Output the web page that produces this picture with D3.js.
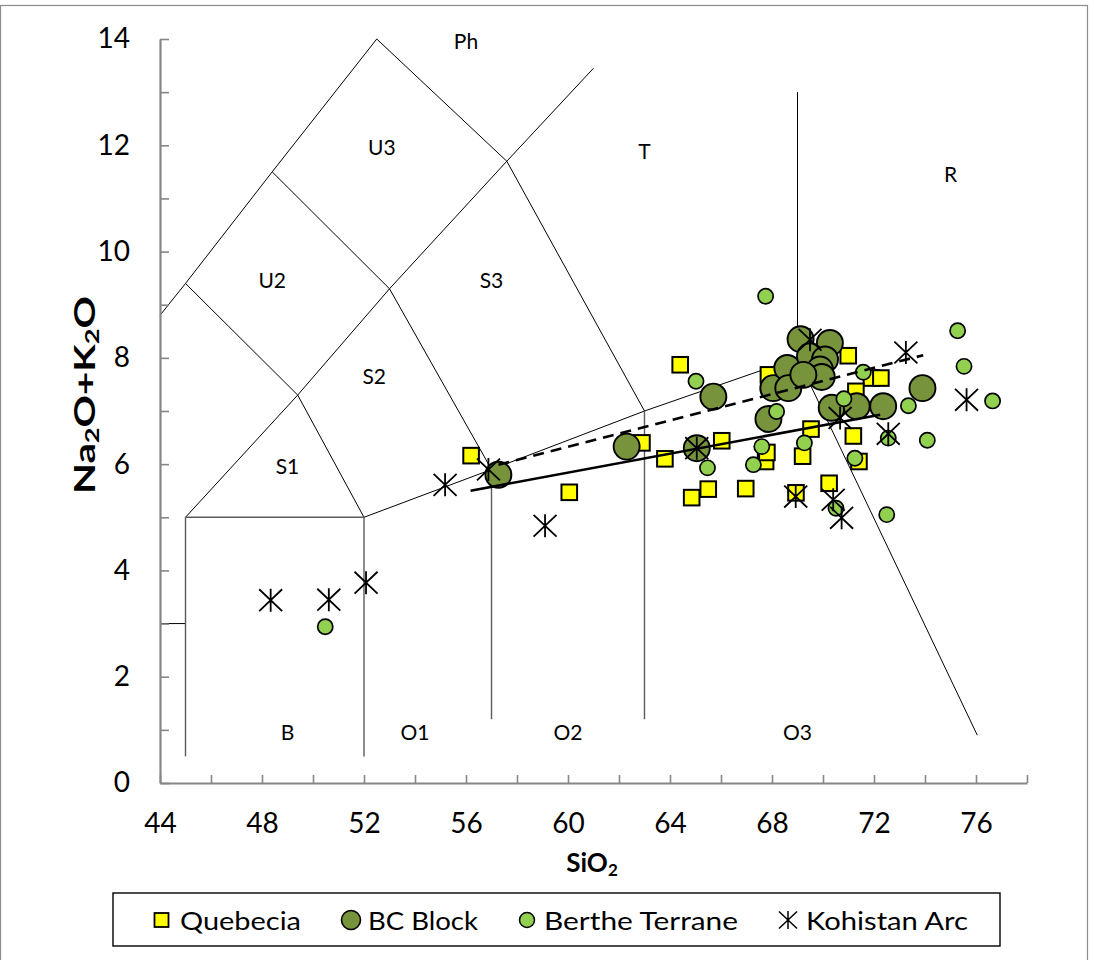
<!DOCTYPE html>
<html>
<head>
<meta charset="utf-8">
<script src="https://cdn.jsdelivr.net/npm/d3@7"></script>
<style>
  body { margin: 0; background: #fff; }
  text { font-family: Lato, "Open Sans", sans-serif; }
</style>
</head>
<body>
<svg id="chart" width="1094" height="960"></svg>
<script>
// ---- sample data: [SiO2, Na2O+K2O] (wt%) ----
const quebecia = [
  [56.2, 6.16], [60.05, 5.47], [62.9, 6.4], [63.8, 6.1], [66.03, 6.44],
  [64.85, 5.37], [65.5, 5.53], [66.97, 5.54], [64.4, 7.87], [67.86, 7.68],
  [69.53, 6.66], [69.2, 6.15], [67.75, 6.05], [67.8, 6.22], [70.24, 5.64],
  [68.94, 5.46], [70.99, 8.04], [71.9, 7.62], [72.27, 7.62], [71.29, 7.37],
  [71.19, 6.53], [71.41, 6.05]
];
const bcBlock = [
  [57.27, 5.8], [62.3, 6.33], [65.05, 6.3], [65.7, 7.27], [67.86, 6.85],
  [68.05, 7.43], [68.6, 7.81], [68.64, 7.43], [69.12, 8.35], [70.27, 8.28],
  [69.49, 8.03], [70.08, 7.97], [69.88, 7.78], [69.95, 7.64], [69.23, 7.68],
  [70.34, 7.06], [71.32, 7.09], [72.36, 7.09], [73.9, 7.43]
];
const bertheTerrane = [
  [50.48, 2.94], [67.75, 9.16], [65.02, 7.56], [65.47, 5.93], [67.6, 6.33],
  [67.27, 5.99], [68.18, 6.99], [69.27, 6.4], [70.82, 7.23], [71.25, 6.11],
  [70.51, 5.17], [75.28, 8.51], [75.53, 7.84], [76.65, 7.19], [73.35, 7.1],
  [74.09, 6.45], [72.5, 5.05], [71.58, 7.73], [72.56, 6.49]
];
const kohistanArc = [
  [48.34, 3.44], [50.62, 3.45], [52.08, 3.77], [55.18, 5.61], [56.88, 5.9],
  [59.1, 4.84], [65.05, 6.3], [68.93, 5.39], [70.4, 5.33], [70.73, 4.99],
  [70.67, 6.87], [69.49, 8.34], [73.25, 8.1], [75.63, 7.21], [72.56, 6.57]
];

// trend lines
const trendSolid = [[56.18, 5.5], [72.24, 6.93]];
const trendDashed = [[57.27, 5.99], [73.93, 8.05]];

// TAS field boundaries (SiO2, alkali)
const fieldBoundaries = [
  [[44, 8.8], [45, 9.4], [48.4, 11.5], [52.5, 14]],
  [[52.5, 14], [57.6, 11.7], [63, 7]],
  [[45, 5], [49.4, 7.3], [53, 9.3], [57.6, 11.7], [61, 13.45]],
  [[45, 9.4], [49.4, 7.3], [52, 5]],
  [[48.4, 11.5], [53, 9.3], [57, 5.9]],
  [[52, 5], [57, 5.9], [63, 7], [69, 8]],
  [[69, 8], [69, 13]],
  [[69, 8], [76.05, 0.9]],
  [[44, 3], [45, 3]]
];
const fieldBoundariesGrey = [
  [[45, 5], [52, 5]],
  [[45, 0.5], [45, 5]],
  [[52, 0.5], [52, 5]],
  [[57, 1.2], [57, 5.9]],
  [[63, 1.2], [63, 7]]
];
const fieldNames = ["Ph", "U3", "U2", "S3", "S2", "S1", "T", "R", "B", "O1", "O2", "O3"];
const fieldNameSiO2 = [56.0, 52.7, 48.4, 57.0, 52.4, 49.0, 63.0, 75.0, 49.0, 54.0, 60.0, 69.0];
const fieldNameAlk = [13.97, 11.97, 9.48, 9.47, 7.67, 5.97, 11.91, 11.46, 0.97, 0.97, 0.97, 0.97];

// axes
const xTicks = d3.range(44, 79, 2);
const xTickLabels = [44, 48, 52, 56, 60, 64, 68, 72, 76];
const yTicks = d3.range(0, 15, 1);
const yTickLabels = [0, 2, 4, 6, 8, 10, 12, 14];

const seriesNames = ["Quebecia", "BC Block", "Berthe Terrane", "Kohistan Arc"];

// ---- drawing ----
const svg = d3.select("#chart");
const x = d3.scaleLinear().domain([44, 78]).range([160, 1027]);
const y = d3.scaleLinear().domain([0, 14]).range([783, 39]);

const COL_Q = "#ffff00", COL_BC = "#77933c", COL_BT = "#92d050";

// outer chart frame
svg.append("rect").attr("x", 0.5).attr("y", 5.5).attr("width", 1087).attr("height", 1000)
  .attr("fill", "none").attr("stroke", "#8c8c8c").attr("stroke-width", 1.2);

const line = d3.line().x(d => x(d[0])).y(d => y(d[1]));

// field boundaries
svg.append("g").selectAll("path").data(fieldBoundaries).join("path")
  .attr("d", line).attr("fill", "none").attr("stroke", "#000").attr("stroke-width", 1);
svg.append("g").selectAll("path").data(fieldBoundariesGrey).join("path")
  .attr("d", line).attr("fill", "none").attr("stroke", "#5a5a5a").attr("stroke-width", 1.4);

// field names
svg.append("g").selectAll("text").data(fieldNames).join("text")
  .attr("x", (d, i) => x(fieldNameSiO2[i]))
  .attr("y", (d, i) => y(fieldNameAlk[i]))
  .attr("text-anchor", "middle").attr("dominant-baseline", "central")
  .attr("font-size", 21).attr("fill", "#000")
  .text(d => d);

// axes
const xAxis = d3.axisBottom(x).tickValues(xTicks).tickSizeInner(-8).tickSizeOuter(0).tickPadding(30)
  .tickFormat(d => xTickLabels.includes(d) ? d : "");
const yAxis = d3.axisLeft(y).tickValues(yTicks).tickSizeInner(-9).tickSizeOuter(0).tickPadding(30)
  .tickFormat(d => yTickLabels.includes(d) ? d : "");

const gx = svg.append("g").attr("transform", `translate(0,${y(0)})`).call(xAxis);
const gy = svg.append("g").attr("transform", `translate(${x(44)},0)`).call(yAxis);
[gx, gy].forEach(g => {
  g.select(".domain").attr("stroke", "#868686").attr("stroke-width", 2.2);
  g.selectAll(".tick line").attr("stroke", "#868686").attr("stroke-width", 1.6);
  g.selectAll(".tick text").attr("font-size", 28).attr("fill", "#000")
    .style("font-family", "Lato, sans-serif");
});

// axis titles
const xt = svg.append("text").attr("x", 592).attr("y", 862).attr("text-anchor", "middle")
  .attr("dominant-baseline", "central").attr("font-size", 26).attr("font-weight", "bold");
xt.append("tspan").text("SiO");
xt.append("tspan").attr("font-size", 17).attr("dy", 7).text("2");

const yt = svg.append("text").attr("transform", "translate(84,395) rotate(-90)")
  .attr("text-anchor", "middle").attr("dominant-baseline", "central")
  .attr("font-size", 28).attr("font-weight", "bold")
  .attr("textLength", 198).attr("lengthAdjust", "spacingAndGlyphs");
yt.append("tspan").text("Na");
yt.append("tspan").attr("font-size", 19).attr("dy", 7).text("2");
yt.append("tspan").attr("dy", -7).text("O+K");
yt.append("tspan").attr("font-size", 19).attr("dy", 7).text("2");
yt.append("tspan").attr("dy", -7).text("O");

// markers
const starPath = s => `M0,${-s}V${s}M${-s},${-s * 0.95}L${s},${s * 0.95}M${-s},${s * 0.95}L${s},${-s * 0.95}`;

const marks = svg.append("g");
marks.selectAll("rect.q").data(quebecia).join("rect").attr("class", "q")
  .attr("x", d => x(d[0]) - 7.8).attr("y", d => y(d[1]) - 7.8)
  .attr("width", 15.6).attr("height", 15.6)
  .attr("fill", COL_Q).attr("stroke", "#000").attr("stroke-width", 2);
marks.selectAll("circle.bc").data(bcBlock).join("circle").attr("class", "bc")
  .attr("cx", d => x(d[0])).attr("cy", d => y(d[1])).attr("r", 13)
  .attr("fill", COL_BC).attr("stroke", "#000").attr("stroke-width", 1.9);
marks.selectAll("circle.bt").data(bertheTerrane).join("circle").attr("class", "bt")
  .attr("cx", d => x(d[0])).attr("cy", d => y(d[1])).attr("r", 7.6)
  .attr("fill", COL_BT).attr("stroke", "#000").attr("stroke-width", 1.7);
marks.selectAll("path.ka").data(kohistanArc).join("path").attr("class", "ka")
  .attr("transform", d => `translate(${x(d[0])},${y(d[1])})`)
  .attr("d", starPath(11.5)).attr("fill", "none").attr("stroke", "#000").attr("stroke-width", 1.8);

// trend lines
svg.append("path").attr("d", line(trendSolid)).attr("fill", "none")
  .attr("stroke", "#000").attr("stroke-width", 2.6);
svg.append("path").attr("d", line(trendDashed)).attr("fill", "none")
  .attr("stroke", "#000").attr("stroke-width", 2.6).attr("stroke-dasharray", "11,7");

// legend
const lg = svg.append("g");
lg.append("rect").attr("x", 113).attr("y", 893).attr("width", 887).attr("height", 53)
  .attr("fill", "#fff").attr("stroke", "#000").attr("stroke-width", 1.4);
const legendMarkX = [161.5, 351, 527, 788];
const legendTextX = [180, 368, 544, 806];
const legendTextW = [121, 110, 194, 162];
const ly = 920;
lg.append("rect").attr("x", legendMarkX[0] - 7).attr("y", ly - 7).attr("width", 14).attr("height", 14)
  .attr("fill", COL_Q).attr("stroke", "#000").attr("stroke-width", 1.8);
lg.append("circle").attr("cx", legendMarkX[1]).attr("cy", ly).attr("r", 9.5)
  .attr("fill", COL_BC).attr("stroke", "#000").attr("stroke-width", 1.6);
lg.append("circle").attr("cx", legendMarkX[2]).attr("cy", ly).attr("r", 7.5)
  .attr("fill", COL_BT).attr("stroke", "#000").attr("stroke-width", 1.5);
lg.append("path").attr("transform", `translate(${legendMarkX[3]},${ly})`)
  .attr("d", starPath(9)).attr("fill", "none").attr("stroke", "#000").attr("stroke-width", 1.5);
lg.selectAll("text").data(seriesNames).join("text")
  .attr("x", (d, i) => legendTextX[i]).attr("y", ly)
  .attr("dominant-baseline", "central").attr("font-size", 25)
  .attr("textLength", (d, i) => legendTextW[i]).attr("lengthAdjust", "spacingAndGlyphs")
  .text(d => d);
</script>
</body>
</html>
